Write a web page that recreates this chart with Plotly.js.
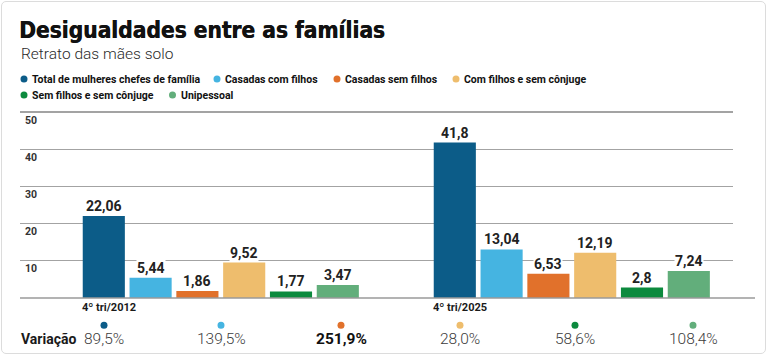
<!DOCTYPE html>
<html>
<head>
<meta charset="utf-8">
<script src="https://cdn.plot.ly/plotly-3.0.1.min.js"></script>
<style>
  html, body { margin: 0; padding: 0; background: #fff; }
  #wrap { position: relative; width: 768px; height: 356px; }
  #chart { width: 768px; height: 356px; }
  #frame { position: absolute; left: 1px; top: 1px; width: 763px; height: 351px;
           border: 1px solid #dcdcdc; border-radius: 5px; pointer-events: none; }
</style>
</head>
<body>
<div id="wrap"><div id="chart"></div><div id="frame"></div></div>
<script>
// ---- Data -------------------------------------------------------------
const categories = ['4º tri/2012', '4º tri/2025'];
const seriesNames = [
  'Total de mulheres chefes de família',
  'Casadas com filhos',
  'Casadas sem filhos',
  'Com filhos e sem cônjuge',
  'Sem filhos e sem cônjuge',
  'Unipessoal'
];
const totalChefes         = [22.06, 41.8];
const casadasComFilhos    = [5.44, 13.04];
const casadasSemFilhos    = [1.86, 6.53];
const comFilhosSemConjuge = [9.52, 12.19];
const semFilhosSemConjuge = [1.77, 2.8];
const unipessoal          = [3.47, 7.24];
const variacao = ['89,5%', '139,5%', '251,9%', '28,0%', '58,6%', '108,4%'];
const yTickVals = [10, 20, 30, 40, 50];

// ---- Styling ------------------------------------------------------------
const seriesValues = [totalChefes, casadasComFilhos, casadasSemFilhos,
                      comFilhosSemConjuge, semFilhosSemConjuge, unipessoal];
const seriesColors = ['#0c5c88', '#45b4e1', '#e1712b', '#eebd6d', '#0c8a3e', '#62ae7b'];
const highlightVariacao = 2;   // the largest change is set in bold

const NARROW = '"Liberation Sans Narrow", Roboto, sans-serif';
const SANS = 'Roboto, "Liberation Sans", sans-serif';
const HEAVY = '"DejaVu Sans Condensed", "DejaVu Sans", sans-serif';

// plot area in page pixels
const PL = 20, PR = 733, PT = 108, PB = 298;
const W = 768, H = 356;
const px = x => (x - PL) / (PR - PL);
const py = y => (PB - y) / (PB - PT);

const BARGAP = 0.2, N = seriesValues.length;
const slot = (1 - BARGAP) / N;
const barCenter = (cat, i) => cat - (1 - BARGAP) / 2 + slot * (i + 0.5);
const fmt = v => String(v).replace('.', ',');

// ---- Traces ----------------------------------------------------------------
const traces = seriesValues.map((vals, i) => ({
  type: 'bar',
  name: seriesNames[i],
  x: categories,
  y: vals,
  marker: { color: seriesColors[i], line: { width: 0 } },
  showlegend: false,
  hoverinfo: 'skip'
}));

// ---- Annotations & shapes ------------------------------------------------
const annotations = [];
const shapes = [];

// subtitle
annotations.push({
  xref: 'paper', yref: 'paper', x: px(19), y: py(54.5),
  xanchor: 'left', yanchor: 'middle', showarrow: false,
  text: 'Retrato das mães solo',
  font: { family: SANS, size: 15.5, color: '#2a2a2a', weight: 300 }
});

// legend: coloured dot + name
const legendPos = [[24, 79], [217, 79], [337, 79], [456, 79], [24, 95], [172.5, 95]];
seriesNames.forEach((name, i) => {
  const [lx, ly] = legendPos[i];
  shapes.push({
    type: 'circle', xref: 'paper', yref: 'paper',
    xsizemode: 'pixel', ysizemode: 'pixel',
    xanchor: px(lx), yanchor: py(ly), x0: -3.5, x1: 3.5, y0: -3.5, y1: 3.5,
    fillcolor: seriesColors[i], line: { width: 0 }
  });
  annotations.push({
    xref: 'paper', yref: 'paper', x: px(lx + 6), y: py(ly),
    xanchor: 'left', yanchor: 'middle', showarrow: false,
    text: name,
    font: { family: NARROW, size: 10.5, color: '#111', weight: 'bold' }
  });
});

// value labels above each bar
seriesValues.forEach((vals, i) => {
  vals.forEach((v, c) => {
    annotations.push({
      xref: 'x', yref: 'y', x: barCenter(c, i), y: v,
      xanchor: 'center', yanchor: 'bottom', yshift: 1, showarrow: false,
      text: fmt(v), bgcolor: '#ffffff', borderpad: 0,
      font: { family: SANS, size: 14, color: '#222', weight: 'bold' }
    });
  });
});

// category labels, left-aligned with each group of bars
categories.forEach((cat, c) => {
  annotations.push({
    xref: 'x', yref: 'paper', x: c - (1 - BARGAP) / 2, y: py(307),
    xanchor: 'left', yanchor: 'middle', showarrow: false,
    text: cat,
    font: { family: NARROW, size: 11, color: '#1a1a1a', weight: 'bold' }
  });
});

// change row
annotations.push({
  xref: 'paper', yref: 'paper', x: px(19), y: py(338.5),
  xanchor: 'left', yanchor: 'middle', showarrow: false,
  text: 'Variação',
  font: { family: NARROW, size: 14, color: '#1a1a1a', weight: 'bold' }
});
const varX = [104, 221, 341, 460, 575, 693];
variacao.forEach((t, i) => {
  shapes.push({
    type: 'circle', xref: 'paper', yref: 'paper',
    xsizemode: 'pixel', ysizemode: 'pixel',
    xanchor: px(varX[i]), yanchor: py(325.3), x0: -3.5, x1: 3.5, y0: -3.5, y1: 3.5,
    fillcolor: seriesColors[i], line: { width: 0 }
  });
  const bold = i === highlightVariacao;
  annotations.push({
    xref: 'paper', yref: 'paper', x: px(varX[i]), y: py(338.5),
    xanchor: 'center', yanchor: 'middle', showarrow: false,
    text: t,
    font: { family: SANS, size: 15.5, color: bold ? '#111' : '#3c3c3c', weight: bold ? 'bold' : 300 }
  });
});

// baseline, running a little past the gridlines
shapes.push({
  type: 'line', xref: 'paper', yref: 'paper', x0: 0, x1: px(755), y0: 0, y1: 0,
  line: { color: '#9a9a9a', width: 1.5 }, layer: 'above'
});

// ---- Layout ------------------------------------------------------------
const layout = {
  width: W, height: H,
  margin: { l: PL, r: W - PR, t: PT, b: H - PB, pad: 0 },
  paper_bgcolor: '#ffffff', plot_bgcolor: '#ffffff',
  title: {
    text: 'Desigualdades entre as famílias',
    xref: 'container', yref: 'container',
    x: 19 / W, xanchor: 'left', y: 1 - 22.5 / H, yanchor: 'top',
    font: { family: HEAVY, size: 22.5, color: '#111', weight: 'bold',
            shadow: '0.5px 0 0 #111' }
  },
  barmode: 'group', bargap: BARGAP, bargroupgap: 0.1,
  showlegend: false,
  xaxis: {
    type: 'category', range: [-(220.8 - PL) / 351, 1 + (PR - 571.8) / 351],
    showticklabels: false, ticks: '', showgrid: false, zeroline: false, showline: false,
    fixedrange: true
  },
  yaxis: {
    range: [0, (PB - PT) / 3.72],
    tickvals: yTickVals, ticktext: yTickVals.map(String),
    ticklabelposition: 'inside', ticklabelshift: 8, ticklabelstandoff: 2,
    tickfont: { family: NARROW, size: 10.5, color: '#333', weight: 'bold' },
    showgrid: true, gridcolor: '#a3a3a3', gridwidth: 1.2,
    zeroline: false, showline: false, ticks: '', fixedrange: true
  },
  annotations: annotations,
  shapes: shapes
};

Plotly.newPlot('chart', traces, layout, { displayModeBar: false, staticPlot: true });
</script>
</body>
</html>
